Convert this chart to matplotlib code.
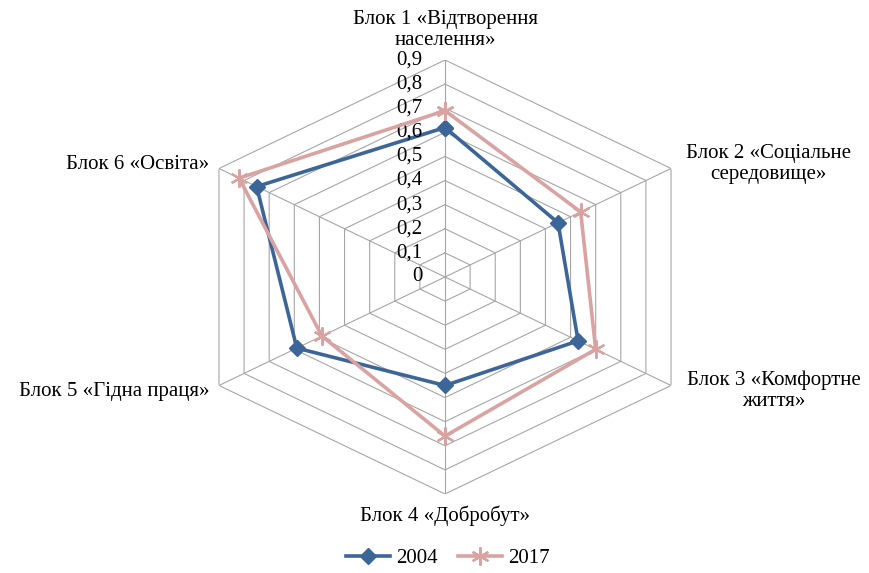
import numpy as np
import matplotlib
matplotlib.use("Agg")
import matplotlib.pyplot as plt

# blocks of the index, clockwise from the top
blocks = ["Блок 1 «Відтворення\nнаселення»",
          "Блок 2 «Соціальне\nсередовище»",
          "Блок 3 «Комфортне\nжиття»",
          "Блок 4 «Добробут»",
          "Блок 5 «Гідна праця»",
          "Блок 6 «Освіта»"]
values_2004 = [0.62, 0.45, 0.53, 0.45, 0.59, 0.75]
values_2017 = [0.69, 0.54, 0.60, 0.66, 0.49, 0.82]
levels = [0.1, 0.2, 0.3, 0.4, 0.5, 0.6, 0.7, 0.8, 0.9]
level_labels = ["0", "0,1", "0,2", "0,3", "0,4", "0,5", "0,6", "0,7", "0,8", "0,9"]

plt.rcParams['font.family'] = ['Liberation Serif', 'DejaVu Serif']

fig = plt.figure(figsize=(8.7, 5.73), dpi=100)
ax = fig.add_axes([0.2115, 0.1379, 0.6, 0.7574], projection='polar')
ax.set_aspect('auto')
ax.set_theta_offset(np.pi / 2)
ax.set_theta_direction(-1)
ax.set_ylim(0, 0.9)

n = len(blocks)
angles = np.linspace(0, 2 * np.pi, n, endpoint=False)
closed = np.append(angles, angles[0])

# hexagonal grid
grid_col = '#a6a6a6'
for lv in levels:
    ax.plot(closed, [lv] * (n + 1), color=grid_col, lw=0.8, zorder=1)
for a in angles:
    ax.plot([a, a], [0, 0.9], color=grid_col, lw=0.8, zorder=1)

ax.grid(False)
ax.spines['polar'].set_visible(False)
ax.set_xticks([])
ax.set_yticks([])

blue = '#3c6598'
pink = '#d9a3a2'
ax.plot(closed, values_2004 + values_2004[:1], color=blue, lw=2.6, marker='D',
        markersize=8, label='2004', zorder=3)
ax.plot(closed, values_2017 + values_2017[:1], color=pink, lw=2.6, marker=(6, 2, 0),
        markersize=13, markeredgewidth=1.6, label='2017', zorder=4)

# radial tick labels on the top spoke
for i, lab in enumerate(level_labels):
    ax.annotate(lab, xy=(0, i * 0.1), xytext=(-16, 0), textcoords='offset points',
                ha='right', va='center', fontsize=15)

# category labels
fs = 15
ls = 1.15
ax.annotate(blocks[0], xy=(angles[0], 0.9), xytext=(0, 7), textcoords='offset points',
            ha='center', va='bottom', fontsize=fs, linespacing=ls)
ax.annotate(blocks[1], xy=(angles[1], 0.9), xytext=(70, 3), textcoords='offset points',
            ha='center', va='center', fontsize=fs, linespacing=ls)
ax.annotate(blocks[2], xy=(angles[2], 0.9), xytext=(74, -4), textcoords='offset points',
            ha='center', va='center', fontsize=fs, linespacing=ls)
ax.annotate(blocks[3], xy=(angles[3], 0.9), xytext=(0, -8), textcoords='offset points',
            ha='center', va='top', fontsize=fs)
ax.annotate(blocks[4], xy=(angles[4], 0.9), xytext=(-7, -4), textcoords='offset points',
            ha='right', va='center', fontsize=fs)
ax.annotate(blocks[5], xy=(angles[5], 0.9), xytext=(-7, 3), textcoords='offset points',
            ha='right', va='center', fontsize=fs)

fig.legend(loc='center', bbox_to_anchor=(0.515, 0.026), ncol=2, frameon=False,
           fontsize=fs, handlelength=2.1, columnspacing=1.0, handletextpad=0.3)

fig.savefig('out.png', dpi=100)
